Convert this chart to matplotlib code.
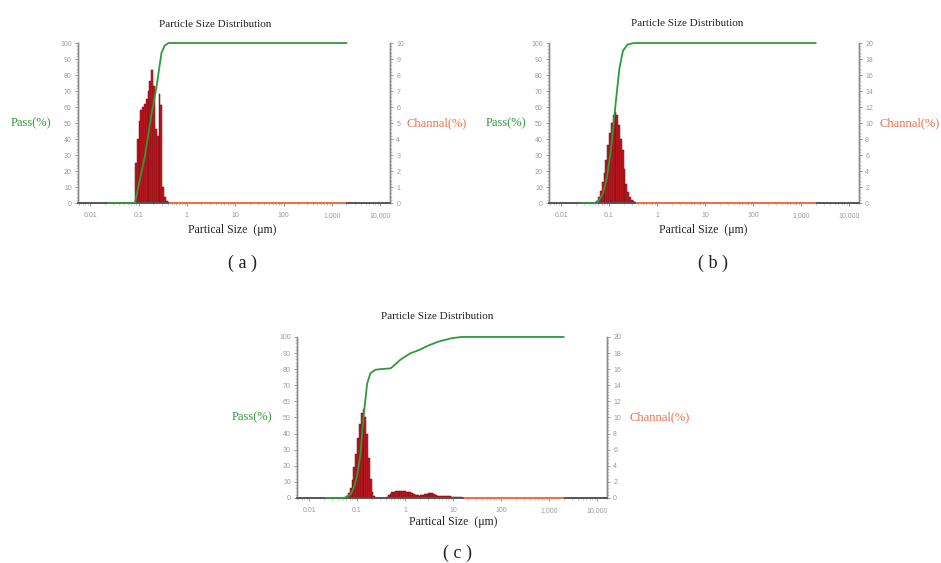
import matplotlib
matplotlib.use("Agg")
import matplotlib.pyplot as plt
from matplotlib.ticker import FixedLocator, FuncFormatter, AutoMinorLocator, LogLocator, NullFormatter

# ---------------- data ----------------
# channel bins: lower edges (um), consecutive bins with ratio 2^(1/8)
sizes_a = [0.08409, 0.09170, 0.1, 0.10905, 0.11892, 0.12968, 0.14142, 0.15422, 0.16818,
           0.18340, 0.2, 0.2181, 0.2378, 0.2594, 0.2828, 0.3084, 0.3364, 0.3668, 0.4]
chan_a = [2.5, 4.0, 5.1, 5.8, 6.0, 6.2, 6.5, 7.0, 7.6,
          8.3, 7.3, 4.6, 4.2, 6.8, 6.1, 1.0, 0.4, 0.15, 0.05]
pass_size_a = [0.024, 0.08, 0.084, 0.1, 0.135, 0.187, 0.237, 0.27, 0.30, 0.35, 0.42, 0.6, 2000]
pass_a = [0, 0, 0, 10.7, 29, 56, 73, 85, 94, 98.5, 100, 100, 100]

sizes_b = [0.05453, 0.05946, 0.06484, 0.07071, 0.07711, 0.08409, 0.09170, 0.1, 0.10905,
           0.11892, 0.12968, 0.14142, 0.15422, 0.16818, 0.18340, 0.2, 0.2181, 0.2378,
           0.2594, 0.2828, 0.3084, 0.3364]
chan_b = [0.3, 0.8, 1.5, 2.6, 3.8, 5.4, 7.2, 8.8, 10.0,
          11.0, 11.4, 11.0, 9.8, 8.0, 6.6, 4.2, 2.4, 1.4,
          0.8, 0.4, 0.2, 0.1]
pass_size_b = [0.025, 0.05, 0.058, 0.075, 0.09, 0.11, 0.14, 0.164, 0.194, 0.24, 0.33, 0.5, 2000]
pass_b = [0, 0, 0.5, 6, 16, 34, 65, 84, 95, 99, 100, 100, 100]

sizes_c = [0.05946, 0.06484, 0.07071, 0.07711, 0.08409, 0.09170, 0.1, 0.10905, 0.11892,
           0.12968, 0.14142, 0.15422, 0.16818, 0.18340, 0.2, 0.2181,
           0.4, 0.4362, 0.4757, 0.5187, 0.5657, 0.6169, 0.6727, 0.7336, 0.8, 0.8724,
           0.9514, 1.0375, 1.1314, 1.2338, 1.3454, 1.4672, 1.6, 1.7448, 1.9027, 2.0749,
           2.2627, 2.4675, 2.6909, 2.9344, 3.2, 3.4896, 3.8055, 4.1499, 4.5255, 4.9351,
           5.3817, 5.8688, 6.4, 6.979, 7.611, 8.300, 9.051, 9.870, 10.763, 11.738,
           12.8, 13.96, 15.22]
chan_c = [0.3, 0.6, 1.2, 2.2, 3.8, 5.5, 7.4, 9.2, 10.6,
          11.1, 10.0, 8.0, 5.0, 2.4, 0.8, 0.2,
          0.15, 0.35, 0.55, 0.7, 0.8, 0.85, 0.9, 0.9, 0.88, 0.85,
          0.82, 0.8, 0.75, 0.68, 0.6, 0.5, 0.4, 0.33, 0.3, 0.32,
          0.38, 0.45, 0.52, 0.56, 0.58, 0.56, 0.5, 0.4, 0.3, 0.22,
          0.2, 0.2, 0.2, 0.2, 0.2, 0.19, 0.18, 0.17, 0.15, 0.13,
          0.1, 0.06, 0.03]
pass_size_c = [0.022, 0.052, 0.06, 0.075, 0.09, 0.1, 0.117, 0.138, 0.162, 0.19, 0.24, 0.3,
               0.5, 0.81, 1.32, 2.0, 2.97, 4.8, 9.2, 15, 2000]
pass_c = [0, 0, 0.6, 2.5, 8.5, 13.6, 27, 52, 71, 77.5, 79.6, 80,
          80.5, 86, 90, 92, 94.5, 97, 99.2, 100, 100]

size_max = 2000            # upper end of measured range (um)
chan_max = [10, 20, 20]    # right axis maxima
x_ticks = [0.01, 0.1, 1, 10, 100, 1000, 10000]
x_tick_labels = ["0.01", "0.1", "1", "10", "100", "1,000", "10,000"]
panel_labels = ["( a )", "( b )", "( c )"]

BIN_RATIO = 2 ** (1 / 8)

# ---------------- style ----------------
GREEN = "#2f9a3c"
SALMON = "#e8714e"
BAR_FACE = "#cc1820"
BAR_EDGE = "#6e0e14"
TICK_GRAY = "#9a9a9a"
SERIF = ["Liberation Serif", "DejaVu Serif"]

fig = plt.figure(figsize=(9.41, 5.63), dpi=100)

rects = [
    [0.0829, 0.6394, 0.3316, 0.2842],
    [0.5834, 0.6394, 0.3294, 0.2842],
    [0.3156, 0.1155, 0.3294, 0.2860],
]
title_pos = [(0.2285, 0.957), (0.730, 0.959), (0.4644, 0.4387)]
pass_pos = [(0.033, 0.7815), (0.5377, 0.7815), (0.2678, 0.2593)]
chan_pos = [(0.4644, 0.7815), (0.967, 0.7815), (0.7014, 0.2593)]
xlab_pos = [(0.2465, 0.591), (0.747, 0.591), (0.4814, 0.0728)]
plab_pos = [(0.258, 0.533), (0.758, 0.533), (0.4867, 0.0178)]

datasets = [
    (sizes_a, chan_a, pass_size_a, pass_a),
    (sizes_b, chan_b, pass_size_b, pass_b),
    (sizes_c, chan_c, pass_size_c, pass_c),
]

for i, (sizes, chan, psz, pvals) in enumerate(datasets):
    ax = fig.add_axes(rects[i])
    ax2 = ax.twinx()

    widths = [s * (BIN_RATIO - 1) for s in sizes]
    ax2.bar(sizes, chan, width=widths, align="edge", color=BAR_FACE,
            edgecolor=BAR_EDGE, linewidth=0.35, zorder=2)

    ax.set_zorder(ax2.get_zorder() + 1)
    ax.patch.set_visible(False)
    ax.plot(psz, pvals, color=GREEN, lw=1.3, zorder=4, clip_on=False)
    # channel series at zero beyond the distribution (drawn over the baseline)
    last_edge = sizes[-1] * BIN_RATIO
    ax.plot([last_edge, size_max], [0, 0], color=SALMON, lw=1.5, zorder=5,
            solid_capstyle="butt", clip_on=False)

    for a in (ax, ax2):
        a.set_xscale("log")
        a.set_xlim(0.0056, 16000)
    ax.set_ylim(0, 100)
    ax2.set_ylim(0, chan_max[i])

    ax.xaxis.set_major_locator(FixedLocator(x_ticks))
    ax.xaxis.set_major_formatter(FuncFormatter(lambda v, p: x_tick_labels[x_ticks.index(v)] if v in x_ticks else ""))
    ax.xaxis.set_minor_locator(LogLocator(base=10, subs=range(2, 10), numticks=20))
    ax.xaxis.set_minor_formatter(NullFormatter())

    ax.set_yticks(range(0, 101, 10))
    ax.yaxis.set_minor_locator(AutoMinorLocator(5))
    step = 1 if chan_max[i] == 10 else 2
    ax2.set_yticks(range(0, chan_max[i] + 1, step))
    ax2.yaxis.set_minor_locator(AutoMinorLocator(5))

    for a in (ax, ax2):
        a.spines["top"].set_visible(False)
        a.spines["left"].set_color("#8c8c8c")
        a.spines["right"].set_color("#8c8c8c")
        a.spines["bottom"].set_color("#555555")
        a.spines["left"].set_linewidth(1.0)
        a.spines["right"].set_linewidth(1.0)
        a.spines["bottom"].set_linewidth(1.2)
        a.tick_params(axis="both", which="major", labelsize=5, colors="#8c8c8c",
                      labelcolor=TICK_GRAY, length=2.5, width=0.6, pad=2)
        a.tick_params(axis="both", which="minor", colors="#a0a0a0", length=1.3, width=0.4)
    ax2.tick_params(axis="x", which="both", bottom=False, labelbottom=False)
    ax.tick_params(axis="x", which="major", pad=4)

    for lab in ax.get_xticklabels() + ax.get_yticklabels() + ax2.get_yticklabels():
        lab.set_fontfamily(["Liberation Sans", "DejaVu Sans"])

    fig.text(*title_pos[i], "Particle Size Distribution", ha="center", va="center",
             fontsize=8, family=SERIF, color="#222222")
    fig.text(*pass_pos[i], "Pass(%)", ha="center", va="center",
             fontsize=9, family=SERIF, color=GREEN)
    fig.text(*chan_pos[i], "Channal(%)", ha="center", va="center",
             fontsize=9, family=SERIF, color=SALMON)
    fig.text(*xlab_pos[i], "Partical Size  (\u03bcm)", ha="center", va="center",
             fontsize=8.5, family=SERIF, color="#222222")
    fig.text(*plab_pos[i], panel_labels[i], ha="center", va="center",
             fontsize=13, family=SERIF, color="#222222")

fig.savefig("out.png", dpi=100, facecolor="white")
